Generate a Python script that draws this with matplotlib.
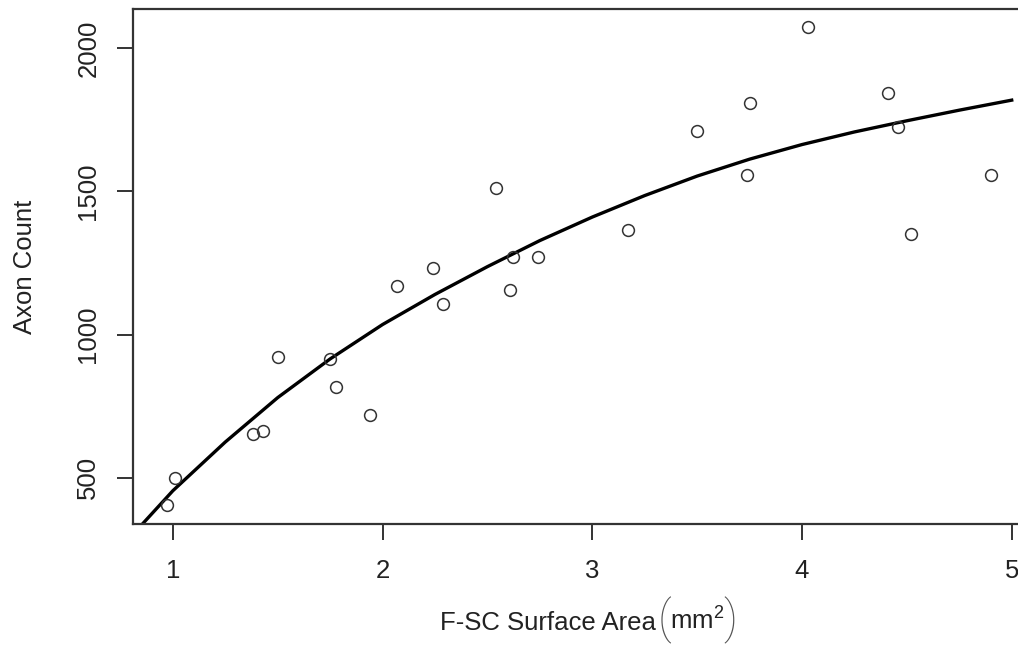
import matplotlib
matplotlib.use("Agg")
import matplotlib.pyplot as plt

# observed points: F-SC surface area (mm^2) vs axon count
area = [0.97, 1.01, 1.38, 1.43, 1.50, 1.75, 1.78, 1.94, 2.07, 2.24, 2.29, 2.54,
        2.62, 2.61, 2.74, 3.17, 3.50, 3.75, 3.74, 4.03, 4.41, 4.46, 4.52, 4.90]
axons = [406, 500, 654, 664, 920, 913, 818, 720, 1171, 1234, 1105, 1510,
         1269, 1154, 1269, 1364, 1710, 1808, 1556, 2073, 1843, 1724, 1350, 1556]

# fitted curve
fit_x = [0.86, 1.0, 1.25, 1.5, 1.75, 2.0, 2.25, 2.5, 2.75, 3.0, 3.25, 3.5,
         3.75, 4.0, 4.25, 4.5, 4.75, 5.0]
fit_y = [343, 455, 625, 780, 915, 1035, 1140, 1237, 1328, 1410, 1485, 1553,
         1612, 1663, 1707, 1746, 1783, 1818]

plt.rcParams['font.family'] = ['Liberation Sans', 'DejaVu Sans']
plt.rcParams['mathtext.fontset'] = 'custom'
plt.rcParams['mathtext.rm'] = 'Liberation Sans'
plt.rcParams['mathtext.it'] = 'Liberation Sans'

W, H = 1018, 652
fig = plt.figure(figsize=(W/100, H/100), dpi=100)
ax = fig.add_axes([133/W, 1 - 524/H, 1 - 133/W, (524 - 9)/H])

ax.plot(fit_x, fit_y, color='black', lw=2.4, zorder=2)
ax.plot(area, axons, 'o', mfc='none', mec='#333333', mew=1.1, ms=8.5, zorder=3)

ax.set_xlim(0.81, 5.03)
ax.set_ylim(339, 2136)
ax.set_xticks([1, 2, 3, 4, 5])
ax.set_yticks([500, 1000, 1500, 2000])
ax.set_yticklabels(['500', '1000', '1500', '2000'], rotation=90, va='center')

for s in ['left', 'bottom', 'top']:
    ax.spines[s].set_linewidth(1.6)
    ax.spines[s].set_color('#333333')
ax.spines['right'].set_visible(False)

ax.tick_params(direction='out', length=11.5, width=1.4, color='#333333',
               labelsize=18.5, labelcolor='#222222')
ax.tick_params(axis='x', pad=14)
ax.tick_params(axis='y', pad=12)

ax.set_ylabel('Axon Count', fontsize=18.5, color='#222222', labelpad=28)

# x label, R style with tall brackets around the unit
lab = dict(fontsize=18.5, color='#222222', va='baseline', ha='left')
fig.text(440/W, 1 - 630/H, 'F-SC Surface Area', **lab)
fig.text(670/W, 1 - 630/H, r'$\mathrm{mm}^2$', **lab)
par = dict(fontsize=33, color='#555555', va='center', ha='left',
           family=['Roboto', 'Liberation Sans'], weight='light')
fig.text(658/W, 1 - 620/H, '(', **par)
fig.text(723/W, 1 - 620/H, ')', **par)

fig.savefig('out.png', dpi=100)
